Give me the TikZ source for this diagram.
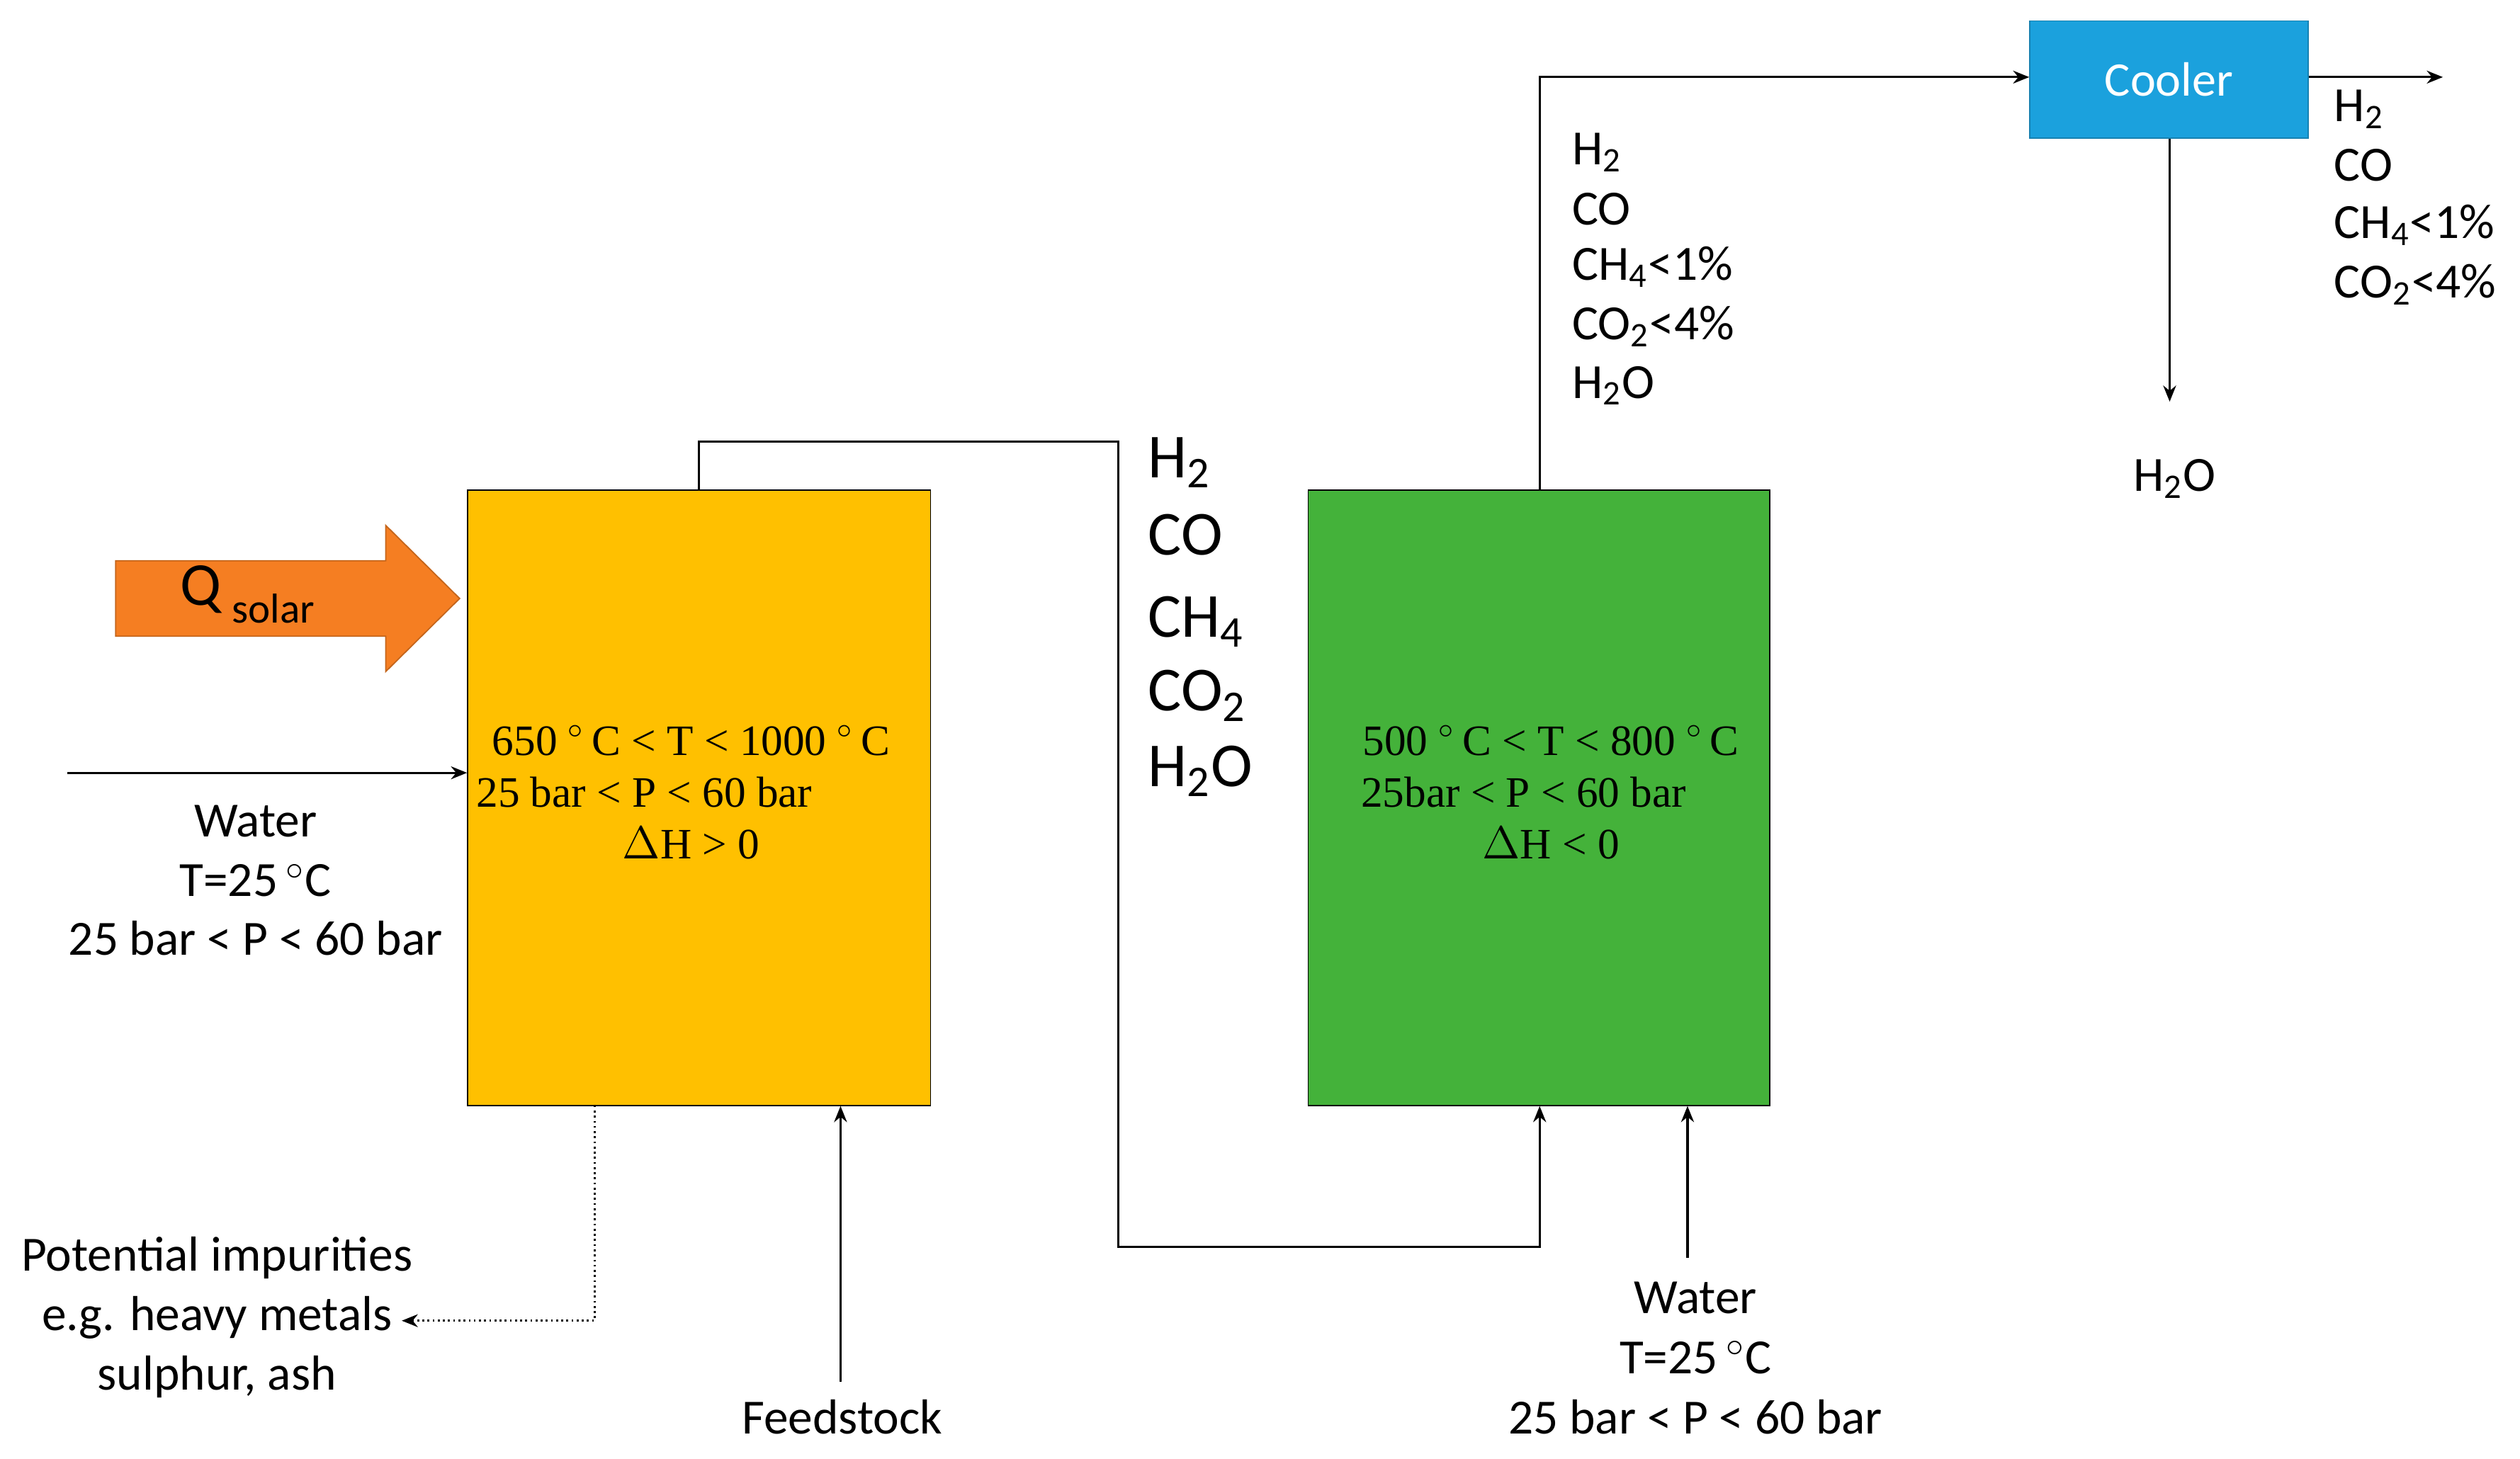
\documentclass[tikz,border=0pt]{standalone}
\usepackage{fontspec}
\setmainfont{Carlito}
\newfontfamily\cam{Liberation Serif}
\usetikzlibrary{arrows.meta}
\definecolor{yel}{HTML}{FFC000}
\definecolor{grn}{HTML}{44B23A}
\definecolor{blu}{HTML}{1BA1DD}
\definecolor{org}{HTML}{F57E22}
\newcommand{\sbs}[1]{\textsubscript{#1}}
\begin{document}
\begin{tikzpicture}[x=0.5pt,y=-0.5pt,
  flow/.style={-{Stealth[length=5pt,width=4pt]},line width=0.7pt},
  lbl/.style={font=\fontsize{15.3}{18}\selectfont,inner sep=0pt},
  big/.style={font=\fontsize{19.5}{23}\selectfont,inner sep=0pt,anchor=west},
  cond/.style={font=\cam\fontsize{13.5}{16}\selectfont,inner sep=0pt}]
\useasboundingbox (0,0) rectangle (1568,908);
\node[draw,fill=yel,minimum width=144pt,minimum height=191.5pt,inner sep=0pt] (R1) at (435,496.5) {};
\node[draw,fill=grn,minimum width=143.5pt,minimum height=191.5pt,inner sep=0pt] (R2) at (957.5,496.5) {};
\node[draw=blu!80!black,fill=blu,minimum width=86.5pt,minimum height=36.5pt,inner sep=0pt,text=white,font=\fontsize{15}{17}\selectfont] (C) at (1349.5,49.5) {Cooler};
\fill[org,draw=org!80!black] (72,349) -- (240,349) -- (240,327) -- (286,372.5) -- (240,418) -- (240,396) -- (72,396) -- cycle;
\node[font=\fontsize{19}{22}\selectfont,anchor=west,inner sep=0pt] (Q) at (112,370) {Q\,\raisebox{-0.6ex}{\fontsize{13}{15}\selectfont solar}};
% water in
\coordinate (w0) at (42,481);
\draw[flow] (w0) -- (R1.west |- w0);
\node[lbl] (wt1) at (159,511) {Water};
\node[lbl] (wt2) at (159,548) {T=25\,$^{\circ}$C};
\node[lbl] (wt3) at (159,584) {25 bar < P < 60 bar};
% conditions
\node[cond] (c1) at (430,461) {650 $^{\circ}$\,C < T < 1000 $^{\circ}$\,C};
\node[cond,anchor=west] (c2) at (296,493) {25 bar < P < 60 bar};
\node[cond] (c3) at (430,525) {$\Delta$H > 0};
\node[cond] (d1) at (965,461) {500 $^{\circ}$\,C < T < 800 $^{\circ}$\,C};
\node[cond] (d2) at (948,493) {25bar < P < 60 bar};
\node[cond] (d3) at (965,525) {$\Delta$H < 0};
% connection R1 -> R2
\coordinate (a1) at (435,275);
\coordinate (a2) at (696,275);
\coordinate (a3) at (696,776);
\coordinate (a4) at (958,776);
\draw[flow] (R1.north -| a1) -- (a1) -- (a2) -- (a3) -- (a4) -- (R2.south -| a4);
\node[big] (g1) at (714,288) {H\sbs{2}};
\node[big] (g2) at (714,333) {CO};
\node[big] (g3) at (714,387) {CH\sbs{4}};
\node[big] (g4) at (714,433) {CO\sbs{2}};
\node[big] (g5) at (714,480) {H\sbs{2}O};
% feedstock
\node[lbl] (F) at (524,882) {Feedstock};
\coordinate (f0) at (523,860);
\draw[flow] (f0) -- (R1.south -| f0);
% impurities
\coordinate (i0) at (370,688);
\coordinate (i1) at (370,822);
\coordinate (i2) at (250,822);
\draw[densely dotted,line width=0.6pt,-{Stealth[length=5pt,width=4pt]}] (i0) -- (i1) -- (i2);
\node[lbl] (p1) at (135,783) {Potential impurities};
\node[lbl] (p2) at (135,820) {e.g. heavy metals};
\node[lbl] (p3) at (135,857) {sulphur, ash};
% water 2
\coordinate (v0) at (1050,783);
\draw[flow] (v0) -- (R2.south -| v0);
\node[lbl] (vt1) at (1055,808) {Water};
\node[lbl] (vt2) at (1055,845) {T=25\,$^{\circ}$C};
\node[lbl] (vt3) at (1055,882) {25 bar < P < 60 bar};
% R2 -> cooler
\coordinate (b1) at (958,48);
\draw[flow] (R2.north -| b1) -- (b1) -- (C.west |- b1);
\node[lbl,anchor=west] (h1) at (978,95) {H\sbs{2}};
\node[lbl,anchor=west] (h2) at (978,130) {CO};
\node[lbl,anchor=west] (h3) at (978,166) {CH\sbs{4}<1\%};
\node[lbl,anchor=west] (h4) at (978,203) {CO\sbs{2}<4\%};
\node[lbl,anchor=west] (h5) at (978,240) {H\sbs{2}O};
% cooler out
\coordinate (o1) at (1520,48);
\draw[flow] (C.east |- o1) -- (o1);
\node[lbl,anchor=west] (k1) at (1452,68) {H\sbs{2}};
\node[lbl,anchor=west] (k2) at (1452,103) {CO};
\node[lbl,anchor=west] (k3) at (1452,140) {CH\sbs{4}<1\%};
\node[lbl,anchor=west] (k4) at (1452,177) {CO\sbs{2}<4\%};
\coordinate (d0) at (1350,250);
\draw[flow] (C.south -| d0) -- (d0);
\node[lbl] (hw) at (1353,298) {H\sbs{2}O};
\end{tikzpicture}
\end{document}
